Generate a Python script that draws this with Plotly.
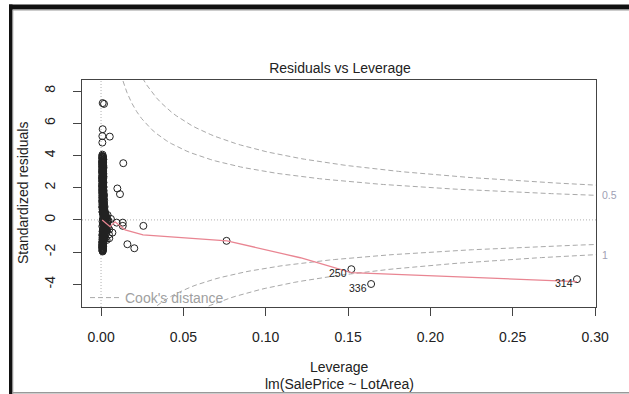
import numpy as np
import plotly.graph_objects as go

# ---------------- data ----------------
# dense column of observations with tiny leverage
cluster_lev = [
    0.0009, 0.0011, 0.0008, 0.0013, 0.0010, 0.0007, 0.0012, 0.0009, 0.0014, 0.0008,
    0.0011, 0.0010, 0.0007, 0.0013, 0.0009, 0.0012, 0.0008, 0.0015, 0.0010, 0.0007,
    0.0012, 0.0009, 0.0014, 0.0008, 0.0011, 0.0013,
    0.0008, 0.0012, 0.0010, 0.0007, 0.0013, 0.0009, 0.0018, 0.0011, 0.0008, 0.0014,
    0.0010, 0.0007, 0.0012, 0.0016, 0.0009, 0.0011, 0.0008, 0.0013, 0.0010, 0.0017,
    0.0009, 0.0020, 0.0012, 0.0024, 0.0015, 0.0028, 0.0011,
    0.0018, 0.0009, 0.0025, 0.0012, 0.0032, 0.0008, 0.0022, 0.0013, 0.0036, 0.0010,
    0.0019, 0.0030, 0.0008, 0.0021, 0.0011, 0.0026, 0.0009, 0.0016, 0.0008, 0.0012,
    0.0010, 0.0007, 0.0013, 0.0009, 0.0011, 0.0008, 0.0010,
    0.0040, 0.0045, 0.0042, 0.0050, 0.0034, 0.0048, 0.0009,
]
cluster_res = [
    3.95, 3.88, 3.80, 3.73, 3.65, 3.58, 3.50, 3.43, 3.35, 3.28,
    3.20, 3.13, 3.05, 2.98, 2.90, 2.83, 2.75, 2.68, 2.60, 2.53,
    2.45, 2.38, 2.30, 2.23, 2.15, 2.08,
    2.00, 1.93, 1.85, 1.78, 1.70, 1.63, 1.55, 1.48, 1.40, 1.33,
    1.25, 1.18, 1.10, 1.03, 0.95, 0.88, 0.80, 0.73, 0.65, 0.58,
    0.50, 0.43, 0.35, 0.28, 0.20, 0.13, 0.05,
    -0.02, -0.10, -0.17, -0.25, -0.32, -0.40, -0.47, -0.55, -0.62, -0.70,
    -0.77, -0.85, -0.92, -1.00, -1.07, -1.15, -1.22, -1.30, -1.37, -1.45,
    -1.52, -1.60, -1.67, -1.75, -1.82, -1.90, -1.96,
    0.30, -0.05, -0.45, -0.60, -1.25, -0.90, 4.05,
]
cluster2_lev = [
    0.0012, 0.0008, 0.0014, 0.0010, 0.0007, 0.0013, 0.0009, 0.0011, 0.0007, 0.0015,
    0.0009, 0.0013, 0.0011, 0.0008, 0.0014, 0.0010, 0.0012, 0.0007, 0.0013, 0.0011,
    0.0008, 0.0014, 0.0010, 0.0012, 0.0007, 0.0015, 0.0011, 0.0009, 0.0016, 0.0012,
    0.0008, 0.0014, 0.0010, 0.0017, 0.0009, 0.0013, 0.0019, 0.0011, 0.0008, 0.0015,
    0.0012, 0.0021, 0.0009, 0.0017, 0.0013, 0.0023, 0.0010, 0.0026, 0.0016, 0.0031,
    0.0020, 0.0034, 0.0024, 0.0038, 0.0015, 0.0029, 0.0012, 0.0035, 0.0020, 0.0027,
    0.0014, 0.0032, 0.0010, 0.0025, 0.0017, 0.0013, 0.0022, 0.0009, 0.0019, 0.0012,
    0.0015, 0.0008, 0.0013, 0.0010, 0.0012, 0.0008, 0.0011, 0.0009, 0.0010,
]
cluster2_res = [
    3.92, 3.84, 3.76, 3.69, 3.61, 3.54, 3.46, 3.39, 3.31, 3.24,
    3.16, 3.09, 3.01, 2.94, 2.86, 2.79, 2.71, 2.64, 2.56, 2.49,
    2.41, 2.34, 2.26, 2.19, 2.11, 2.04, 1.96, 1.89, 1.81, 1.74,
    1.66, 1.59, 1.51, 1.44, 1.36, 1.29, 1.21, 1.14, 1.06, 0.99,
    0.91, 0.84, 0.76, 0.69, 0.61, 0.54, 0.46, 0.39, 0.31, 0.24,
    0.16, 0.09, 0.01, -0.06, -0.14, -0.21, -0.29, -0.36, -0.44, -0.51,
    -0.59, -0.66, -0.74, -0.81, -0.89, -0.96, -1.04, -1.11, -1.19, -1.26,
    -1.34, -1.41, -1.49, -1.56, -1.64, -1.71, -1.79, -1.86, -1.93,
]
cluster3_lev = [
    0.0007, 0.0010, 0.0008, 0.0011, 0.0009, 0.0012, 0.0007, 0.0010, 0.0008, 0.0011,
    0.0009, 0.0012, 0.0007, 0.0010, 0.0008, 0.0013, 0.0009, 0.0011, 0.0007, 0.0012,
    0.0010, 0.0008, 0.0012, 0.0009, 0.0011, 0.0007, 0.0013, 0.0010, 0.0008, 0.0012,
    0.0009, 0.0014, 0.0011, 0.0008, 0.0013, 0.0010, 0.0016, 0.0009, 0.0012, 0.0018,
    0.0011, 0.0015, 0.0009, 0.0020, 0.0013, 0.0017, 0.0010, 0.0022, 0.0014, 0.0025,
    0.0027, 0.0019, 0.0033, 0.0023, 0.0040, 0.0018, 0.0030, 0.0021, 0.0037, 0.0016,
    0.0028, 0.0014, 0.0024, 0.0011, 0.0020, 0.0016, 0.0009, 0.0018, 0.0012, 0.0010,
    0.0013, 0.0009, 0.0011, 0.0008, 0.0012, 0.0007, 0.0010, 0.0009, 0.0011,
]
cluster3_res = [
    3.98, 3.90, 3.82, 3.75, 3.67, 3.60, 3.52, 3.45, 3.37, 3.30,
    3.22, 3.15, 3.07, 3.00, 2.92, 2.85, 2.77, 2.70, 2.62, 2.55,
    2.47, 2.40, 2.32, 2.25, 2.17, 2.10, 2.02, 1.95, 1.87, 1.80,
    1.72, 1.65, 1.57, 1.50, 1.42, 1.35, 1.27, 1.20, 1.12, 1.05,
    0.97, 0.90, 0.82, 0.75, 0.67, 0.60, 0.52, 0.45, 0.37, 0.30,
    0.22, 0.15, 0.07, 0.00, -0.08, -0.15, -0.23, -0.30, -0.38, -0.45,
    -0.53, -0.60, -0.68, -0.75, -0.83, -0.90, -0.98, -1.05, -1.13, -1.20,
    -1.28, -1.35, -1.43, -1.50, -1.58, -1.65, -1.73, -1.80, -1.88,
]
# scattered observations
outlier_lev = [0.0010, 0.0018, 0.0010, 0.0008, 0.0053, 0.0008, 0.0135, 0.0099, 0.0115,
               0.0257, 0.0160, 0.0202, 0.0060, 0.0132, 0.0132, 0.0095, 0.0069, 0.0050,
               0.0762]
outlier_res = [7.25, 7.20, 5.63, 5.20, 5.17, 4.80, 3.52, 1.95, 1.60,
               -0.37, -1.51, -1.76, 0.06, -0.17, -0.37, -0.17, -0.79, -1.14,
               -1.30]
# labelled influential observations
id_labels = ["250", "336", "314"]
id_lev = [0.152, 0.164, 0.289]
id_res = [-3.06, -3.98, -3.68]

# smoother (red line)
smooth_lev = [0.0007, 0.0055, 0.0085, 0.0146, 0.0255, 0.060, 0.0765, 0.121, 0.152, 0.289]
smooth_res = [0.00, -0.42, -0.12, -0.62, -0.93, -1.18, -1.30, -2.35, -3.27, -3.83]

# Cook's distance contour levels, number of model parameters
cook_levels = [0.5, 1.0]
n_params = 2

x_ticks = [0.00, 0.05, 0.10, 0.15, 0.20, 0.25, 0.30]
x_tick_text = ["0.00", "0.05", "0.10", "0.15", "0.20", "0.25", "0.30"]
y_ticks = [-4, -2, 0, 2, 4, 6, 8]
y_tick_text = ["-4", "-2", "0", "2", "4", "6", "8"]

x_range = [-0.01156, 0.30056]
y_range = [-5.407, 8.684]

# ---------------- figure ----------------
W, H = 629, 394
ML, MR, MT, MB = 82, 33, 80, 87
PW, PH = W - ML - MR, H - MT - MB

def px(x):
    return (x - ML) / PW

def py(y):
    return (H - MB - y) / PH

FONT = "Liberation Sans, Arial, sans-serif"
GREY = "#a9a9a9"

fig = go.Figure()

# Cook's distance contours
hh = np.linspace(0.00068, x_range[1], 101)
for i, lev in enumerate(cook_levels):
    cl = np.sqrt(lev * n_params * (1 - hh) / hh)
    for sgn in (1, -1):
        fig.add_trace(go.Scatter(
            x=hh, y=sgn * cl, mode="lines",
            line=dict(color=GREY, width=1, dash="5px,3px"),
            name="Cook's distance",
            showlegend=(i == 0 and sgn == 1),
            hoverinfo="skip",
        ))

# points
all_lev = cluster_lev + cluster2_lev + cluster3_lev + outlier_lev + id_lev
all_res = cluster_res + cluster2_res + cluster3_res + outlier_res + id_res
fig.add_trace(go.Scatter(
    x=all_lev, y=all_res,
    mode="markers",
    marker=dict(symbol="circle-open", size=7, color="#222", line=dict(width=1, color="#222")),
    showlegend=False, hoverinfo="skip",
))

# smoother
fig.add_trace(go.Scatter(
    x=smooth_lev, y=smooth_res, mode="lines",
    line=dict(color="#e98592", width=1.3),
    showlegend=False, hoverinfo="skip",
))

shapes = [
    # dotted reference lines
    dict(type="line", xref="paper", yref="y", x0=0, x1=1, y0=0, y1=0,
         line=dict(color="#b0b0b0", width=1, dash="1px,2px"), layer="below"),
    dict(type="line", xref="x", yref="paper", x0=0, x1=0, y0=0, y1=1,
         line=dict(color="#b0b0b0", width=1, dash="1px,2px"), layer="below"),
    # window frame artifacts
    dict(type="rect", xref="paper", yref="paper", x0=px(9), x1=px(W + 2), y0=py(4.5), y1=py(9.5),
         fillcolor="#111", line=dict(width=0)),
    dict(type="rect", xref="paper", yref="paper", x0=px(12.5), x1=px(W + 2), y0=py(9.5), y1=py(10.6),
         fillcolor="#999", line=dict(width=0)),
    dict(type="rect", xref="paper", yref="paper", x0=px(9), x1=px(12.5), y0=py(4.5), y1=py(H + 2),
         fillcolor="#111", line=dict(width=0)),
    dict(type="rect", xref="paper", yref="paper", x0=px(12.5), x1=px(13.3), y0=py(10), y1=py(H + 2),
         fillcolor="#999", line=dict(width=0)),
    dict(type="rect", xref="paper", yref="paper", x0=px(12.5), x1=px(W + 2), y0=py(392), y1=py(393.6),
         fillcolor="#999", line=dict(width=0)),
]

# contour labels on the right side
xmax = x_range[1]
aty = [float(np.sqrt(l * n_params * (1 - xmax) / xmax)) for l in cook_levels]
annotations = [
    dict(text="0.5", xref="x", yref="y", x=xmax, y=aty[0], xanchor="left", yanchor="middle",
         xshift=4, showarrow=False, font=dict(family=FONT, size=10.5, color="#a0a0b4")),
    dict(text="1", xref="x", yref="y", x=xmax, y=-aty[1], xanchor="left", yanchor="middle",
         xshift=4, showarrow=False, font=dict(family=FONT, size=10.5, color="#a0a0b4")),
    dict(text="Standardized residuals", xref="paper", yref="paper", x=px(23), y=py(193),
         xanchor="center", yanchor="middle", textangle=-90, showarrow=False,
         font=dict(family=FONT, size=14, color="#222")),
    dict(text="Leverage", xref="paper", yref="paper", x=px(339), y=py(367),
         xanchor="center", yanchor="middle", showarrow=False,
         font=dict(family=FONT, size=14, color="#222")),
    dict(text="lm(SalePrice ~ LotArea)", xref="paper", yref="paper", x=px(339), y=py(384),
         xanchor="center", yanchor="middle", showarrow=False,
         font=dict(family=FONT, size=14, color="#222")),
]
# id labels, to the left of their points
for lab, lx, ly in zip(id_labels, id_lev, id_res):
    annotations.append(dict(
        text=lab, xref="x", yref="y", x=lx, y=ly, xanchor="right", yanchor="middle",
        xshift=-2, yshift=-4, showarrow=False,
        font=dict(family=FONT, size=10.5, color="#222"),
    ))

fig.update_layout(
    width=W, height=H,
    margin=dict(l=ML, r=MR, t=MT, b=MB, pad=0),
    paper_bgcolor="white", plot_bgcolor="white",
    title=dict(text="Residuals vs Leverage", x=340 / W, y=1 - 68 / H,
               xanchor="center", yanchor="middle",
               font=dict(family=FONT, size=14, color="#222")),
    showlegend=True,
    legend=dict(x=px(85), y=py(298), xanchor="left", yanchor="middle",
                bgcolor="rgba(0,0,0,0)", borderwidth=0,
                font=dict(family=FONT, size=14, color="#a0a0a0"),
                itemwidth=30, tracegroupgap=0),
    shapes=shapes,
    annotations=annotations,
    font=dict(family=FONT),
)

fig.update_xaxes(
    range=x_range, tickvals=x_ticks, ticktext=x_tick_text,
    showgrid=False, zeroline=False,
    showline=True, mirror=True, linecolor="#444", linewidth=1,
    ticks="outside", ticklen=8, tickcolor="#444", tickwidth=1,
    ticklabelposition="outside", ticklabelstandoff=9,
    tickfont=dict(family=FONT, size=14, color="#222"),
)
fig.update_yaxes(
    range=y_range, tickvals=y_ticks, ticktext=y_tick_text,
    showgrid=False, zeroline=False,
    showline=True, mirror=True, linecolor="#444", linewidth=1,
    ticks="outside", ticklen=8, tickcolor="#444", tickwidth=1,
    tickangle=-90, ticklabelposition="outside", ticklabelstandoff=12,
    tickfont=dict(family=FONT, size=14, color="#222"),
)

fig.write_html("out.html")
